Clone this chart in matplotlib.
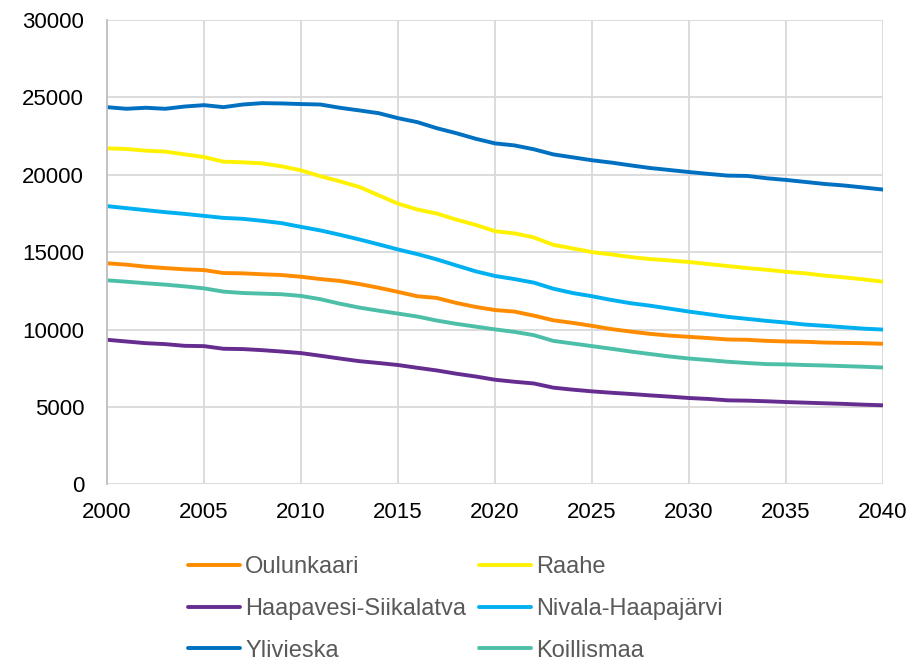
import matplotlib
matplotlib.use("Agg")
import matplotlib.pyplot as plt

plt.rcParams["font.family"] = ["Liberation Sans", "DejaVu Sans"]

years = list(range(2000, 2041))

oulunkaari = [14280, 14190, 14060, 13970, 13890, 13840, 13650, 13630, 13570, 13520,
              13410, 13260, 13140, 12940, 12700, 12430, 12150, 12040, 11720, 11460,
              11260, 11160, 10900, 10600, 10430, 10240, 10030, 9870, 9720, 9610,
              9530, 9450, 9360, 9340, 9270, 9230, 9210, 9160, 9140, 9120, 9080]
raahe = [21700, 21660, 21550, 21490, 21310, 21140, 20840, 20800, 20730, 20540,
         20280, 19900, 19570, 19210, 18670, 18130, 17750, 17490, 17100, 16760,
         16350, 16210, 15950, 15470, 15240, 15000, 14850, 14680, 14550, 14460,
         14360, 14230, 14100, 13970, 13860, 13730, 13630, 13480, 13370, 13240, 13090]
haapavesi = [9340, 9230, 9120, 9060, 8950, 8930, 8760, 8740, 8670, 8580,
             8480, 8310, 8130, 7960, 7840, 7710, 7530, 7360, 7150, 6970,
             6760, 6630, 6520, 6250, 6120, 6010, 5920, 5840, 5750, 5670,
             5580, 5520, 5430, 5410, 5370, 5320, 5280, 5240, 5200, 5150, 5110]
nivala = [17970, 17840, 17710, 17580, 17470, 17340, 17210, 17150, 17020, 16870,
          16630, 16400, 16120, 15820, 15500, 15170, 14870, 14530, 14140, 13760,
          13460, 13260, 13030, 12640, 12360, 12150, 11910, 11700, 11540, 11350,
          11160, 10990, 10820, 10690, 10560, 10450, 10320, 10240, 10150, 10060, 10000]
ylivieska = [24360, 24255, 24320, 24255, 24400, 24490, 24360, 24530, 24620, 24600,
             24560, 24530, 24320, 24150, 23970, 23650, 23390, 23000, 22680, 22320,
             22020, 21890, 21640, 21310, 21120, 20930, 20780, 20600, 20430, 20300,
             20170, 20050, 19940, 19920, 19770, 19660, 19530, 19400, 19300, 19170, 19040]
koillismaa = [13180, 13090, 12990, 12900, 12790, 12660, 12450, 12360, 12320, 12280,
              12170, 11960, 11670, 11420, 11220, 11030, 10840, 10580, 10370, 10190,
              10010, 9850, 9640, 9270, 9100, 8930, 8760, 8580, 8420, 8260,
              8130, 8030, 7920, 7840, 7770, 7750, 7710, 7680, 7640, 7600, 7550]

# legend fills column-wise, so order = col1 then col2
series = [
    ("Oulunkaari", oulunkaari, "#FF8C00"),
    ("Haapavesi-Siikalatva", haapavesi, "#662D91"),
    ("Ylivieska", ylivieska, "#0070C0"),
    ("Raahe", raahe, "#FFF200"),
    ("Nivala-Haapajärvi", nivala, "#00B0F0"),
    ("Koillismaa", koillismaa, "#4DBFA8"),
]

fig = plt.figure(figsize=(9.17, 6.6), dpi=100)
ax = fig.add_axes([0.1167, 0.266, 0.8463, 0.704])

for name, vals, col in series:
    ax.plot(years, vals, color=col, lw=2.8, label=name, solid_capstyle="round")

ax.set_xlim(2000, 2040)
ax.set_ylim(0, 30000)
ax.set_xticks(range(2000, 2041, 5))
ax.set_yticks(range(0, 30001, 5000))
ax.grid(True, color="#D9D9D9", lw=1.3)
ax.set_axisbelow(True)
for s in ["top", "right", "bottom"]:
    ax.spines[s].set_visible(False)
ax.spines["left"].set_color("#BFBFBF")
ax.spines["left"].set_linewidth(1.3)
ax.tick_params(length=0, labelsize=16, colors="#000000")
ax.tick_params(axis="y", pad=16.5)
ax.tick_params(axis="x", pad=12.5)

ax.legend(loc="upper left", bbox_to_anchor=(0.205, 0.157), bbox_transform=fig.transFigure,
          ncol=2, frameon=False, fontsize=17, handlelength=2.2, handletextpad=0.22,
          columnspacing=0.55, labelspacing=0.83, labelcolor="#595959", borderaxespad=0,
          borderpad=0)

fig.savefig("out.png", dpi=100)
